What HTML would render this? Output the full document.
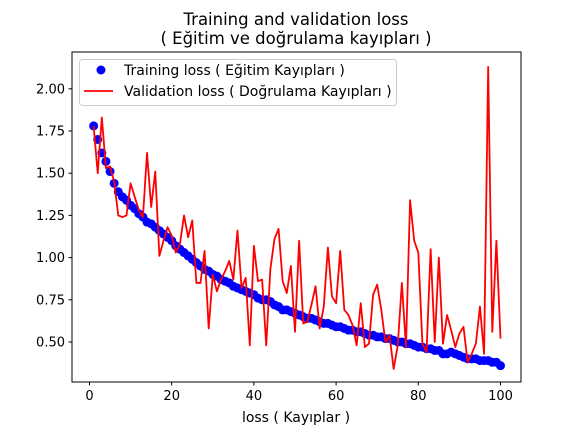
<!DOCTYPE html>
<html><head><meta charset="utf-8"><style>
html,body{margin:0;padding:0;background:#fff;}
svg{display:block;font-family:"DejaVu Sans","Liberation Sans",sans-serif;}
</style></head><body>
<svg id="chart" width="579" height="430" xmlns="http://www.w3.org/2000/svg">
<rect width="579" height="430" fill="#fff"/>
<text x="296" y="25" font-size="16.5" text-anchor="middle">Training and validation loss</text>
<text x="296" y="44" font-size="16.5" text-anchor="middle">( Eğitim ve doğrulama kayıpları )</text>
<g id="xticks"></g>
<g id="yticks"></g>
<g id="series"></g>
<rect x="72" y="52" width="449" height="330" fill="none" stroke="#000" stroke-width="1"/>
<text x="296" y="422" font-size="14" text-anchor="middle">loss ( Kayıplar )</text>
<g>
<rect x="79.5" y="59.5" width="317" height="46" rx="3" fill="#fff" fill-opacity="0.8" stroke="#ccc"/>
<circle cx="101" cy="70" r="4.5" fill="#0000ff"/>
<text x="124" y="75" font-size="14">Training loss ( Eğitim Kayıpları )</text>
<line x1="84" y1="91" x2="113" y2="91" stroke="#ff0000" stroke-width="1.8"/>
<text x="124" y="96" font-size="14">Validation loss ( Doğrulama Kayıpları )</text>
</g>
</svg>
<script>
const xTicks=[0,20,40,60,80,100];
const yTicks=[0.50,0.75,1.00,1.25,1.50,1.75,2.00];
const trainLoss=[1.78,1.70,1.62,1.57,1.51,1.44,1.39,1.36,1.34,1.31,1.29,1.26,1.24,1.21,1.20,1.18,1.16,1.14,1.12,1.10,1.07,1.05,1.03,1.01,0.99,0.97,0.95,0.93,0.92,0.90,0.89,0.87,0.86,0.85,0.83,0.82,0.81,0.80,0.79,0.78,0.76,0.75,0.75,0.74,0.72,0.71,0.69,0.69,0.68,0.67,0.66,0.65,0.64,0.64,0.63,0.62,0.61,0.61,0.60,0.59,0.59,0.58,0.57,0.57,0.56,0.56,0.55,0.54,0.54,0.53,0.53,0.52,0.52,0.51,0.50,0.50,0.49,0.49,0.48,0.47,0.47,0.46,0.46,0.45,0.45,0.43,0.43,0.44,0.43,0.42,0.41,0.40,0.40,0.40,0.39,0.39,0.39,0.38,0.38,0.36];
const valLoss=[1.78,1.50,1.83,1.53,1.54,1.45,1.25,1.24,1.25,1.44,1.36,1.28,1.24,1.62,1.30,1.51,1.01,1.10,1.18,1.13,1.03,1.08,1.25,1.12,1.22,0.85,0.85,1.04,0.58,0.90,0.80,0.87,0.92,0.98,0.87,1.16,0.82,0.88,0.48,1.07,0.86,0.87,0.48,0.93,1.11,1.17,0.86,0.79,0.95,0.56,1.10,0.61,0.62,0.72,0.83,0.58,0.71,1.06,0.77,0.73,1.04,0.69,0.66,0.60,0.48,0.73,0.47,0.49,0.78,0.84,0.69,0.50,0.54,0.34,0.48,0.85,0.47,1.34,1.10,1.03,0.49,0.44,1.05,0.50,1.00,0.49,0.66,0.57,0.47,0.55,0.59,0.38,0.43,0.49,0.71,0.43,2.13,0.56,1.10,0.52];
const NS='http://www.w3.org/2000/svg';
function xs(v){return 89.5+v*4.11;}
function ys(v){return 342-(v-0.5)*168.8;}
function mk(tag,attrs,parent){const e=document.createElementNS(NS,tag);for(const k in attrs)e.setAttribute(k,attrs[k]);parent.appendChild(e);return e;}
const gx=document.getElementById('xticks'),gy=document.getElementById('yticks'),gs=document.getElementById('series');
xTicks.forEach(t=>{
 const l=mk('line',{x1:xs(t),x2:xs(t),y1:382,y2:385.5,stroke:'#000'},gx);
 
 
 const tx=mk('text',{x:xs(t),y:400,'font-size':13,'text-anchor':'middle'},gx);
 tx.textContent=String(t);
 
 
});
yTicks.forEach(t=>{
 const l=mk('line',{x1:68.5,x2:72,y1:ys(t),y2:ys(t),stroke:'#000'},gy);
 
 
 const tx=mk('text',{x:65,y:ys(t)+4.5,'font-size':13,'text-anchor':'end'},gy);
 tx.textContent=t.toFixed(2);
 
 
});
trainLoss.forEach((v,i)=>{
 const c=mk('circle',{cx:xs(i+1),cy:ys(v),r:4.5,fill:'#0000ff'},gs);
 
 
});
const pts=valLoss.map((v,i)=>xs(i+1).toFixed(2)+','+ys(v).toFixed(2)).join(' ');
const pl=mk('polyline',{points:pts,fill:'none',stroke:'#ff0000','stroke-width':1.8,'stroke-linejoin':'round'},gs);


</script>
</body></html>
